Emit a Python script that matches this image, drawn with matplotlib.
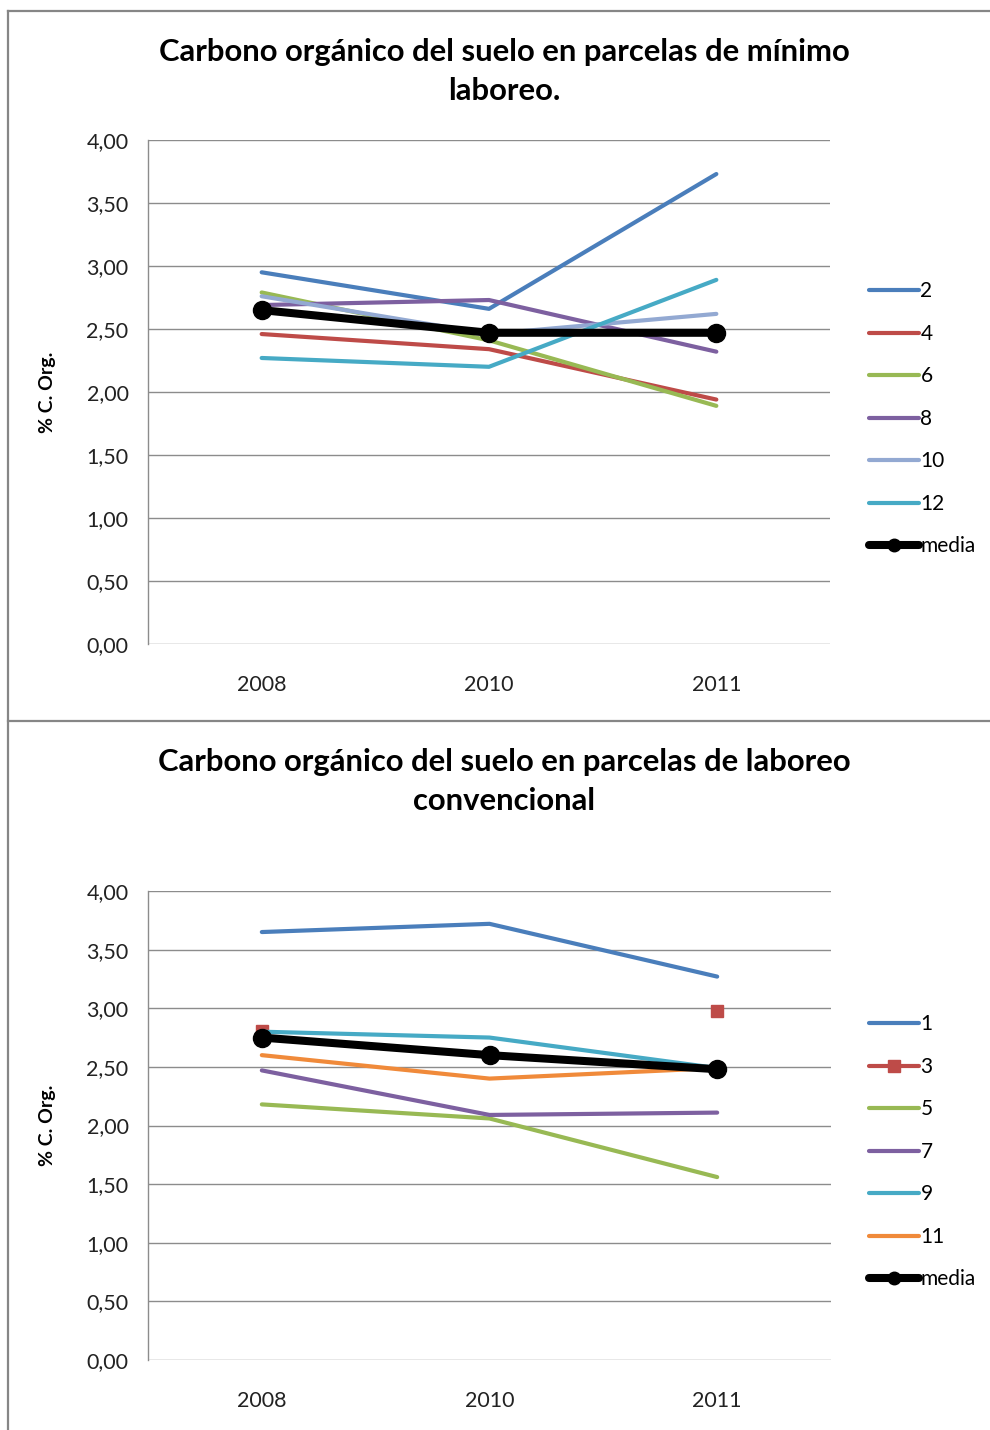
import numpy as np
import matplotlib
matplotlib.use("Agg")
import matplotlib.pyplot as plt
from matplotlib.lines import Line2D

plt.rcParams['font.family'] = ['Lato', 'DejaVu Sans']

# ---- data ----
years = ["2008", "2010", "2011"]

# minimum tillage plots
min_labels = ["2", "4", "6", "8", "10", "12"]
min_s2 = [2.95, 2.66, 3.73]
min_s4 = [2.46, 2.34, 1.94]
min_s6 = [2.79, 2.41, 1.89]
min_s8 = [2.69, 2.73, 2.32]
min_s10 = [2.76, 2.46, 2.62]
min_s12 = [2.27, 2.20, 2.89]
min_media = [2.65, 2.47, 2.47]

# conventional tillage plots
conv_labels = ["1", "3", "5", "7", "9", "11"]
conv_s1 = [3.65, 3.72, 3.27]
conv_s3 = [2.81, np.nan, 2.98]
conv_s5 = [2.18, 2.06, 1.56]
conv_s7 = [2.47, 2.09, 2.11]
conv_s9 = [2.80, 2.75, 2.49]
conv_s11 = [2.60, 2.40, 2.49]
conv_media = [2.75, 2.60, 2.48]

y_ticks = [0, 0.5, 1.0, 1.5, 2.0, 2.5, 3.0, 3.5, 4.0]
y_ticklabels = ["0,00", "0,50", "1,00", "1,50", "2,00", "2,50", "3,00", "3,50", "4,00"]

title_top = ["Carbono orgánico del suelo en parcelas de mínimo", "laboreo."]
title_bot = ["Carbono orgánico del suelo en parcelas de laboreo", "convencional"]
ylabel = "% C. Org."

C_BLUE = "#4A7EBB"
C_RED = "#BE4B48"
C_GREEN = "#98B954"
C_PURPLE = "#7D60A0"
C_LBLUE = "#93A9D2"
C_AQUA = "#46AAC5"
C_ORANGE = "#F08A3A"
GRID = "#8C8C8C"

W, H = 990, 1430
fig = plt.figure(figsize=(W / 100, H / 100), dpi=100)


def fx(px):
    return px / W


def fy(py):
    return 1 - py / H


def make_axes(left, top, right, bottom):
    return fig.add_axes([fx(left), fy(bottom), fx(right - left), (bottom - top) / H])


def style_axes(ax):
    ax.set_xlim(-0.5, 2.5)
    ax.set_ylim(0, 4)
    ax.set_yticks(y_ticks)
    ax.set_yticklabels(y_ticklabels)
    ax.set_xticks(range(len(years)))
    ax.set_xticklabels(years)
    ax.tick_params(length=0, labelsize=15.5, colors="#222222", pad=14)
    ax.tick_params(axis="x", pad=22)
    for side in ("top", "right", "bottom"):
        ax.spines[side].set_visible(False)
    ax.spines["left"].set_color(GRID)
    ax.spines["left"].set_linewidth(1.0)
    ax.yaxis.grid(True, color=GRID, linewidth=1.0)
    ax.set_axisbelow(True)


def legend(ax, ytop):
    handles, labels = ax.get_legend_handles_labels()
    proxies = []
    for h in handles:
        marker = h.get_marker()
        ms = 9 if marker not in (None, "None", "") else 0
        proxies.append(Line2D([], [], color=h.get_color(), lw=h.get_linewidth(),
                              marker=marker, markersize=ms,
                              solid_capstyle="round"))
    leg = ax.legend(proxies, labels, loc="upper left",
                    bbox_to_anchor=(fx(859), fy(ytop)),
                    bbox_transform=fig.transFigure, frameon=False,
                    fontsize=15, handlelength=2.4, handletextpad=0.05,
                    labelspacing=1.08, borderpad=0)
    return leg


lw = 3.0
x = np.arange(len(years))

# ---- top chart: minimum tillage ----
ax1 = make_axes(148, 140, 830, 644)
style_axes(ax1)
for vals, col, lab in zip([min_s2, min_s4, min_s6, min_s8, min_s10, min_s12],
                          [C_BLUE, C_RED, C_GREEN, C_PURPLE, C_LBLUE, C_AQUA],
                          min_labels):
    ax1.plot(x, vals, color=col, lw=lw, label=lab, solid_capstyle="round")
ax1.plot(x, min_media, color="black", lw=5.8, marker="o", markersize=13,
         label="media", zorder=5)
legend(ax1, 271)
ax1.set_ylabel(ylabel, fontsize=14, fontweight="bold", labelpad=0)
ax1.yaxis.set_label_coords(fx(56), fy(392), transform=fig.transFigure)

# ---- bottom chart: conventional tillage ----
ax2 = make_axes(148, 891, 831, 1360)
style_axes(ax2)
for vals, col, lab in zip([conv_s1, conv_s3, conv_s5, conv_s7, conv_s9, conv_s11],
                          [C_BLUE, C_RED, C_GREEN, C_PURPLE, C_AQUA, C_ORANGE],
                          conv_labels):
    if lab == "3":
        ax2.plot(x, vals, color=col, lw=lw, marker="s", markersize=9, label=lab)
    else:
        ax2.plot(x, vals, color=col, lw=lw, label=lab, solid_capstyle="round")
ax2.plot(x, conv_media, color="black", lw=5.8, marker="o", markersize=13,
         label="media", zorder=5)
legend(ax2, 1004)
ax2.set_ylabel(ylabel, fontsize=14, fontweight="bold", labelpad=0)
ax2.yaxis.set_label_coords(fx(56), fy(1125), transform=fig.transFigure)

# ---- titles ----
for i, line in enumerate(title_top):
    fig.text(fx(504), fy(52 + 39 * i), line, ha="center", va="center",
             fontsize=22.3, fontweight="bold", color="black")
for i, line in enumerate(title_bot):
    fig.text(fx(504), fy(762 + 39 * i), line, ha="center", va="center",
             fontsize=22.3, fontweight="bold", color="black")

# ---- chart frames ----
frame_kw = dict(color="#868686", linewidth=1.6, transform=fig.transFigure)
fig.add_artist(Line2D([fx(8), fx(990)], [fy(11), fy(11)], **frame_kw))
fig.add_artist(Line2D([fx(8), fx(990)], [fy(721), fy(721)], **frame_kw))
fig.add_artist(Line2D([fx(8), fx(8)], [fy(11), fy(1430)], **frame_kw))

fig.savefig("out.png", dpi=100, facecolor="white")
